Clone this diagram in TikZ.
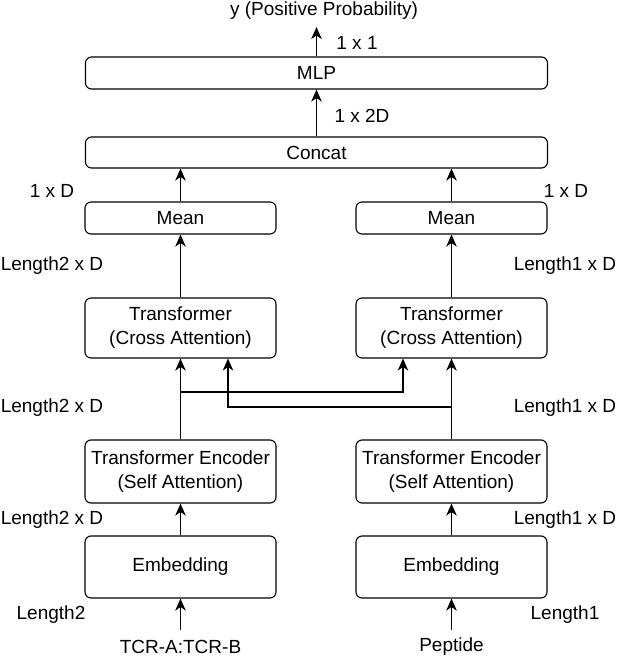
\documentclass[tikz,border=0pt]{standalone}
\usepackage{fontspec}
\setmainfont{Liberation Sans}
\usetikzlibrary{arrows.meta,positioning,calc}

\begin{document}
\begin{tikzpicture}[x=1pt,y=-1pt]
\tikzstyle{connexion}=[-{Stealth[length=12pt,width=10.5pt,inset=3.5pt]},line width=1.3pt]
\tikzstyle{boite}=[draw,line width=1.1pt,rounded corners=6pt,align=center,font=\fontsize{19}{24}\selectfont,inner sep=0pt]
\tikzstyle{legende}=[font=\fontsize{19}{24}\selectfont,inner sep=0pt]
\def\ColonneG{180.5}
\def\ColonneD{451.5}
\def\Milieu{316.5}
\def\LargeurColonne{191pt}
\def\LargeurTotale{462pt}
\useasboundingbox (0,0) rectangle (619,659);
% blocs communs
\node[boite,minimum width=\LargeurTotale,minimum height=32pt] (MLP) at (\Milieu,73) {MLP};
\node[boite,minimum width=\LargeurTotale,minimum height=31pt] (Concat) at (\Milieu,152.5) {Concat};
% colonne gauche
\node[boite,minimum width=\LargeurColonne,minimum height=32pt] (MeanG) at (\ColonneG,218) {Mean};
\node[boite,minimum width=\LargeurColonne,minimum height=60pt] (CrossG) at (\ColonneG,328) {Transformer\\(Cross Attention)};
\node[boite,minimum width=\LargeurColonne,minimum height=63pt] (EncG) at (\ColonneG,471.5) {Transformer Encoder\\(Self Attention)};
\node[boite,minimum width=\LargeurColonne,minimum height=62pt] (EmbG) at (\ColonneG,567) {Embedding};
% colonne droite
\node[boite,minimum width=\LargeurColonne,minimum height=32pt] (MeanD) at (\ColonneD,218) {Mean};
\node[boite,minimum width=\LargeurColonne,minimum height=60pt] (CrossD) at (\ColonneD,328) {Transformer\\(Cross Attention)};
\node[boite,minimum width=\LargeurColonne,minimum height=63pt] (EncD) at (\ColonneD,471.5) {Transformer Encoder\\(Self Attention)};
\node[boite,minimum width=\LargeurColonne,minimum height=62pt] (EmbD) at (\ColonneD,567) {Embedding};
% entrees et sortie
\node[legende] (Sortie) at (324,11) {y (Positive Probability)};
\node[legende] (TCR) at (\ColonneG,647) {TCR-A:TCR-B};
\node[legende] (Peptide) at (\ColonneD,647) {Peptide};
\coordinate (Haut) at (\Milieu,27);
\coordinate (PiedG) at (\ColonneG,630);
\coordinate (PiedD) at (\ColonneD,630);
\coordinate (EmbrG) at (\ColonneG,392);
\coordinate (EmbrD) at (\ColonneD,407);
% dimensions
\node[legende] (d11) at (357,43) {1 x 1};
\node[legende] (d12D) at (362,116) {1 x 2D};
\node[legende] (d1DG) at (52,191) {1 x D};
\node[legende] (d1DD) at (566,191) {1 x D};
\node[legende] (dMeanG) at (52,266) {Length2 x D};
\node[legende] (dMeanD) at (565,266) {Length1 x D};
\node[legende] (dCrossG) at (52,408) {Length2 x D};
\node[legende] (dCrossD) at (565,408) {Length1 x D};
\node[legende] (dEncG) at (52,520) {Length2 x D};
\node[legende] (dEncD) at (565,520) {Length1 x D};
\node[legende] (dEmbG) at (51,615) {Length2};
\node[legende] (dEmbD) at (565,615) {Length1};
% fleches
\draw[connexion] (PiedG)--(EmbG.south);
\draw[connexion] (PiedD)--(EmbD.south);
\draw[connexion] (EmbG)--(EncG);
\draw[connexion] (EmbD)--(EncD);
\draw[connexion] (EncG)--(CrossG);
\draw[connexion] (EncD)--(CrossD);
\draw[connexion] (EmbrG) -| ([xshift=-48.5pt]CrossD.south);
\draw[connexion] (EmbrD) -| ([xshift=47.5pt]CrossG.south);
\draw[connexion] (CrossG)--(MeanG);
\draw[connexion] (CrossD)--(MeanD);
\draw[connexion] (MeanG.north)--(MeanG.north|-Concat.south);
\draw[connexion] (MeanD.north)--(MeanD.north|-Concat.south);
\draw[connexion] (Concat)--(MLP);
\draw[connexion] (MLP)--(Haut);
\end{tikzpicture}
\end{document}
